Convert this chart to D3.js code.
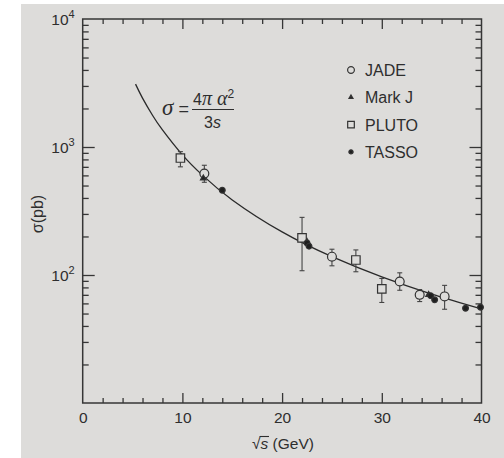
<!DOCTYPE html>
<html>
<head>
<meta charset="utf-8">
<script src="https://cdn.jsdelivr.net/npm/d3@7"></script>
<style>
  body { margin:0; background:#fff; }
  svg { display:block; }
  text { font-family:"Liberation Sans", Arial, sans-serif; fill:#2e2e2e; }
  .frame { fill:none; stroke:#363636; stroke-width:1.5; }
  .tick line { stroke:#363636; stroke-width:1.3; }
  .mk { stroke:#333; stroke-width:1.2; }
  .err { stroke:#444; stroke-width:1.1; }
</style>
</head>
<body>
<svg width="504" height="458"></svg>
<script>
// data: [sqrt(s) GeV, sigma pb, err low, err high]
const jade  = [[12.2,620,530,720],[25.0,139,118,159],[31.8,89,76,104],[33.8,70,62,77],[36.3,68,54,83]];
const markj = [[12.1,570],[22.5,182],[34.7,70]];
const pluto = [[9.8,820,700,920],[22.0,195,108,282],[27.4,131,106,157],[30.0,78,61,94]];
const tasso = [[14.0,460],[22.5,178],[22.7,168],[34.9,69],[35.3,64],[38.4,55],[39.9,56]];
// curve sigma = 4 pi alpha^2 / 3s
const curveX = [5.3, 6, 7, 8, 10, 12, 15, 20, 25, 30, 35, 40];
const curveY = [3100, 2410, 1770, 1360, 868, 603, 386, 217, 139, 96.5, 70.9, 54.3];
const xMajor = [0, 10, 20, 30, 40];
const xMinor = [2,4,6,8,12,14,16,18,22,24,26,28,32,34,36,38];
const yMajor = [10, 100, 1000, 10000];
const yMajorLabels = ["1","2","3","4"];   // exponent of 10
const yMinor = [20,30,40,50,60,70,80,90,200,300,400,500,600,700,800,900,2000,3000,4000,5000,6000,7000,8000,9000];
const legendNames = ["JADE","Mark J","PLUTO","TASSO"];

const svg = d3.select("svg");
const L = 82.7, R = 481.5, T = 19, B = 403;

// photo background
svg.append("rect").attr("x",21).attr("y",4).attr("width",483).attr("height",454).attr("fill","#dddcda");

const x = d3.scaleLinear().domain([0,40]).range([L,R]);
const y = d3.scaleLog().domain([10,10000]).range([B,T]);

// ticks, all inside
function tickAxis(axis, vals, size, tx, ty){
  const g = svg.append("g").attr("transform","translate("+tx+","+ty+")")
    .call(axis.tickValues(vals).tickSizeInner(-size).tickSizeOuter(0).tickFormat(""));
  g.select(".domain").remove();
  return g;
}
tickAxis(d3.axisBottom(x), xMinor, 5, 0, B);
tickAxis(d3.axisTop(x), xMinor, 5, 0, T);
tickAxis(d3.axisTop(x), xMajor.slice(1,4), 10, 0, T);
tickAxis(d3.axisLeft(y), yMinor, 6, L, 0);
tickAxis(d3.axisRight(y), yMinor, 6, R, 0);
tickAxis(d3.axisLeft(y), yMajor.slice(1,3), 12, L, 0);
tickAxis(d3.axisRight(y), yMajor.slice(1,3), 12, R, 0);

// bottom axis with labels
const xb = svg.append("g").attr("transform","translate(0,"+B+")")
  .call(d3.axisBottom(x).tickValues(xMajor).tickSizeInner(-10).tickSizeOuter(0).tickPadding(9));
xb.select(".domain").remove();
xb.selectAll(".tick line").filter(d=> d===0 || d===40).remove();
xb.selectAll("text").style("font-size","15.5px").style("font-family","Liberation Sans").attr("fill","#2e2e2e");

// left axis labels 10^n
const yl = svg.append("g").attr("transform","translate("+L+",0)")
  .call(d3.axisLeft(y).tickValues(yMajor.slice(1)).tickSize(0).tickPadding(8).tickFormat(""));
yl.select(".domain").remove();
yl.selectAll(".tick text").each(function(d,i){
  const t = d3.select(this).attr("dy",null).attr("y",5)
    .style("font-size","15.5px").style("font-family","Liberation Sans").attr("fill","#2e2e2e");
  t.append("tspan").text("10");
  t.append("tspan").attr("dy",-7).style("font-size","11px").text(yMajorLabels[i+1]);
});

svg.append("rect").attr("class","frame").attr("x",L).attr("y",T).attr("width",R-L).attr("height",B-T);

// axis titles
const xt = svg.append("text").attr("x",252).attr("y",449).style("font-size","15.5px");
xt.append("tspan").text("√");
const sT = xt.append("tspan").style("font-style","italic").text("s");
xt.append("tspan").text(" (GeV)");
const sb = sT.node().getBBox();
svg.append("line").attr("x1",sb.x-1).attr("x2",sb.x+sb.width+0.5)
  .attr("y1",sb.y+1.5).attr("y2",sb.y+1.5).attr("stroke","#2e2e2e").attr("stroke-width",1.1);

svg.append("text").attr("transform","translate(43,214) rotate(-90)")
  .attr("text-anchor","middle").style("font-size","16px").text("σ(pb)");

// curve
const line = d3.line().x(d=>x(d[0])).y(d=>y(d[1])).curve(d3.curveNatural);
svg.append("path").datum(curveX.map((v,i)=>[v,curveY[i]]))
  .attr("d",line).attr("fill","none").attr("stroke","#2a2a2a").attr("stroke-width",1.3);

// formula
const f = svg.append("g");
f.append("text").attr("x",162).attr("y",115).style("font-family","Liberation Serif")
  .style("font-style","italic").style("font-size","23px").text("σ");
f.append("text").attr("x",178.5).attr("y",115).style("font-size","18px").text("=");
f.append("line").attr("x1",192).attr("x2",234).attr("y1",109.5).attr("y2",109.5)
  .attr("stroke","#2e2e2e").attr("stroke-width",1.1);
const num = f.append("text").attr("x",193).attr("y",105).style("font-size","16px");
num.append("tspan").text("4");
num.append("tspan").style("font-family","Liberation Serif").style("font-style","italic").style("font-size","20px").text("π α");
num.append("tspan").attr("dy",-7).style("font-size","12px").text("2");
const den = f.append("text").attr("x",204).attr("y",128).style("font-size","16px");
den.append("tspan").text("3");
den.append("tspan").style("font-style","italic").text("s");

// error bars
function errBars(data){
  const g = svg.append("g");
  data.forEach(d=>{
    g.append("line").attr("class","err").attr("x1",x(d[0])).attr("x2",x(d[0])).attr("y1",y(d[2])).attr("y2",y(d[3]));
    [d[2],d[3]].forEach(v=> g.append("line").attr("class","err")
      .attr("x1",x(d[0])-2.5).attr("x2",x(d[0])+2.5).attr("y1",y(v)).attr("y2",y(v)));
  });
}
errBars(pluto);
errBars(jade);

const sym = {
  circle:  d3.symbol().type(d3.symbolCircle),
  tri:     d3.symbol().type(d3.symbolTriangle),
  square:  d3.symbol().type(d3.symbolSquare),
};
function marks(data, type, size, fill){
  svg.append("g").selectAll("path").data(data).enter().append("path")
    .attr("class","mk").attr("d",sym[type].size(size)())
    .attr("transform",d=>"translate("+x(d[0])+","+y(d[1])+")")
    .attr("fill",fill);
}
marks(pluto,"square",72,"#dddcda");
marks(jade,"circle",62,"#dddcda");
marks(markj,"tri",14,"#222");
marks(tasso,"circle",26,"#1f1f1f");

// legend
const leg = svg.append("g");
const legSym = [["circle",36,"none"],["tri",7,"#222"],["square",44,"none"],["circle",14,"#1f1f1f"]];
legendNames.forEach((n,i)=>{
  const cy = 70 + i*27.3;
  leg.append("path").attr("class","mk").attr("d",sym[legSym[i][0]].size(legSym[i][1])())
    .attr("transform","translate(351,"+cy+")").attr("fill",legSym[i][2]).attr("stroke-width",1);
  leg.append("text").attr("x",365).attr("y",cy+6).style("font-size","16px").text(n);
});
</script>
</body>
</html>
